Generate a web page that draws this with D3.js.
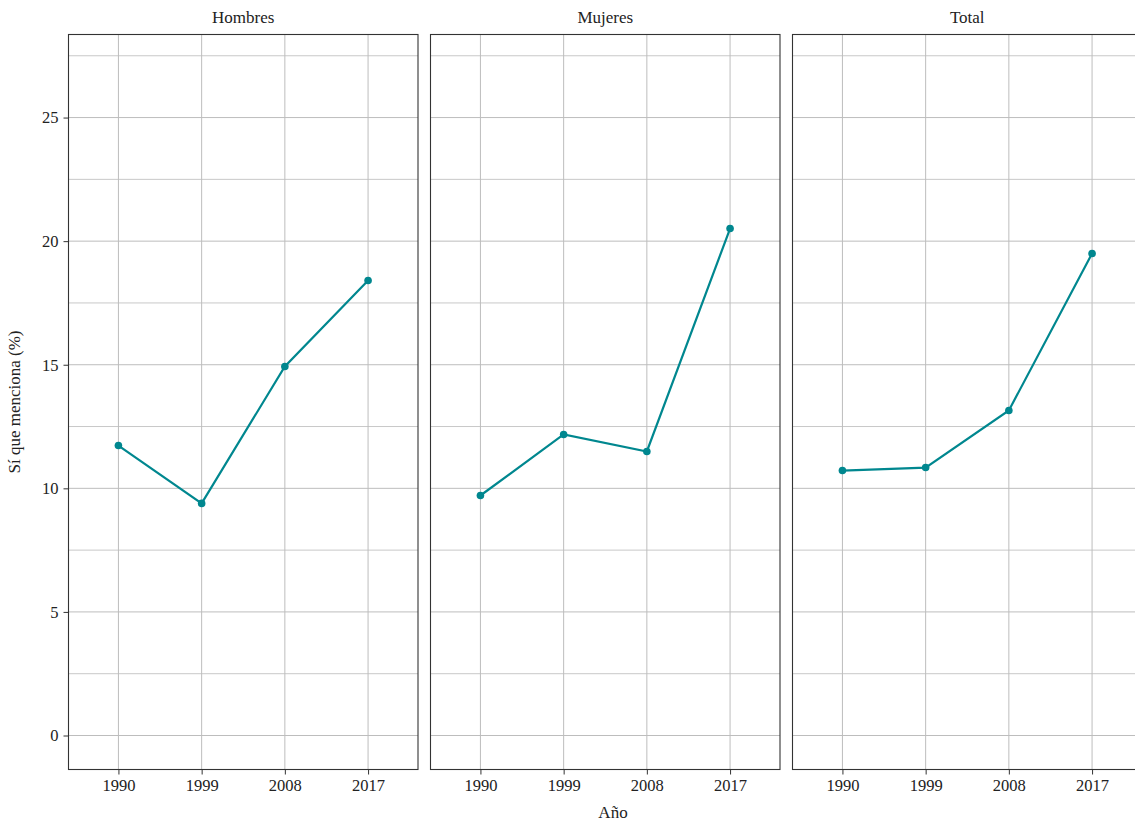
<!DOCTYPE html>
<html><head><meta charset="utf-8">
<script src="https://cdn.jsdelivr.net/npm/d3@7"></script>
<style>body{margin:0;background:#fff}</style>
</head><body>
<svg id="c" width="1135" height="821"></svg>
<script>
const years = ["1990","1999","2008","2017"];
const panels = ["Hombres","Mujeres","Total"];
const hombres = [11.73, 9.39, 14.93, 18.41];
const mujeres = [9.71, 12.18, 11.49, 20.51];
const total = [10.72, 10.84, 13.15, 19.50];
const series = [hombres, mujeres, total];
const yTicks = [0,5,10,15,20,25];
const yMinor = [2.5,7.5,12.5,17.5,22.5,27.5];

(function(){
const svg = d3.select("#c");
const font = "'Liberation Serif', 'DejaVu Serif', serif";
const pTop = 34.5, pBottom = 769.5;
const lefts = [68.5, 430.5, 792.5];
const width = 349.5;
const y = d3.scaleLinear().domain([-1.375, 28.36]).range([pBottom, pTop]);
const color = "#00878F";

panels.forEach((name, i) => {
  const x0 = lefts[i];
  const x = d3.scalePoint().domain(years).range([x0, x0 + width]).padding(0.6);
  const g = svg.append("g");
  g.selectAll(".ymin").data(yMinor).join("line")
    .attr("x1", x0).attr("x2", x0 + width)
    .attr("y1", d => y(d)).attr("y2", d => y(d))
    .attr("stroke", "#c8c8c8").attr("stroke-width", 1);
  g.selectAll(".ymaj").data(yTicks).join("line")
    .attr("x1", x0).attr("x2", x0 + width)
    .attr("y1", d => y(d)).attr("y2", d => y(d))
    .attr("stroke", "#bdbdbd").attr("stroke-width", 1);
  g.selectAll(".xg").data(years).join("line")
    .attr("x1", d => x(d)).attr("x2", d => x(d))
    .attr("y1", pTop).attr("y2", pBottom)
    .attr("stroke", "#bdbdbd").attr("stroke-width", 1);
  const data = years.map((yr, j) => ({yr, v: series[i][j]}));
  g.append("path").datum(data)
    .attr("fill", "none").attr("stroke", color).attr("stroke-width", 2.2)
    .attr("d", d3.line().x(d => x(d.yr)).y(d => y(d.v)));
  g.selectAll("circle").data(data).join("circle")
    .attr("cx", d => x(d.yr)).attr("cy", d => y(d.v)).attr("r", 3.8)
    .attr("fill", color);
  g.append("rect").attr("x", x0).attr("y", pTop).attr("width", width).attr("height", pBottom - pTop)
    .attr("fill", "none").attr("stroke", "#333").attr("stroke-width", 1.1);
  const xa = g.append("g").attr("transform", `translate(0,${pBottom})`)
    .call(d3.axisBottom(x).tickSize(5).tickPadding(5));
  xa.select(".domain").remove();
  xa.selectAll("line").attr("stroke", "#333");
  xa.selectAll("text").attr("font-family", font).attr("font-size", 16.5).attr("fill", "#222");
  svg.append("text").attr("x", x0 + width / 2).attr("y", 23)
    .attr("text-anchor", "middle").attr("font-family", font).attr("font-size", 17).attr("fill", "#222")
    .text(name);
  if (i === 0) {
    const ya = g.append("g").attr("transform", `translate(${x0},0)`)
      .call(d3.axisLeft(y).tickValues(yTicks).tickSize(5).tickPadding(5));
    ya.select(".domain").remove();
    ya.selectAll("line").attr("stroke", "#333");
    ya.selectAll("text").attr("font-family", font).attr("font-size", 16.5).attr("fill", "#222");
  }
});

svg.append("text").attr("x", 613).attr("y", 818).attr("text-anchor", "middle")
  .attr("font-family", font).attr("font-size", 17).attr("fill", "#222").text("Año");
svg.append("text").attr("transform", `translate(20,${(pTop + pBottom) / 2}) rotate(-90)`)
  .attr("text-anchor", "middle").attr("font-family", font).attr("font-size", 17).attr("fill", "#222")
  .text("Sí que menciona (%)");
})();
</script>
</body></html>
